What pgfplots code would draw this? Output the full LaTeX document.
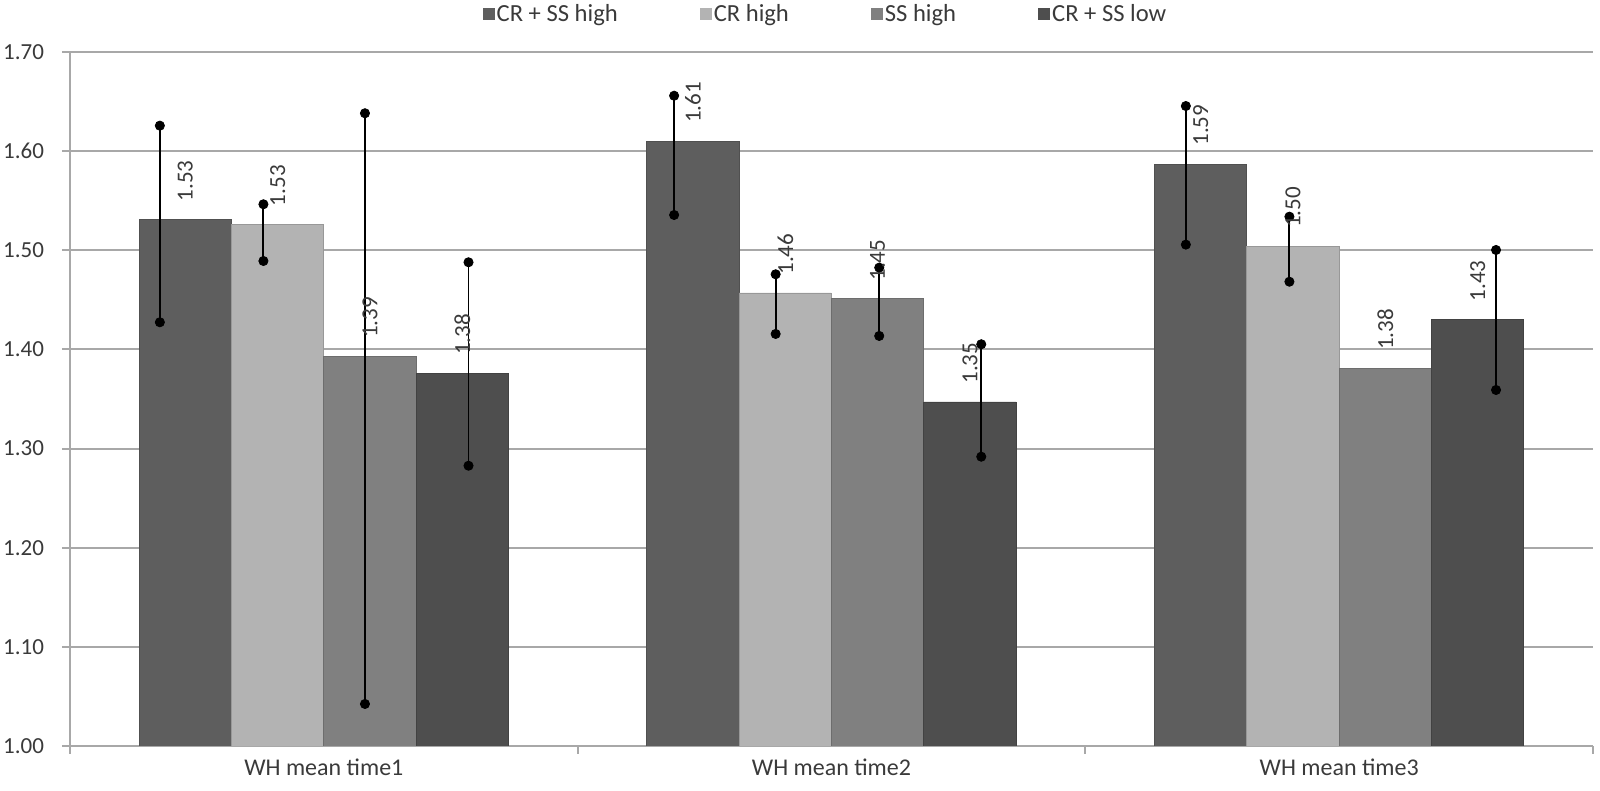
\documentclass[border=0pt]{standalone}
\usepackage{fontspec}
\setmainfont{Carlito}
\usepackage{pgfplots}
\usepackage{pgfplotstable}
\pgfplotsset{compat=1.18}
\definecolor{cA}{HTML}{5E5E5E}
\definecolor{cB}{HTML}{B3B3B3}
\definecolor{cC}{HTML}{808080}
\definecolor{cD}{HTML}{4E4E4E}
\definecolor{gridc}{HTML}{A8A8A8}
\definecolor{labc}{HTML}{3A3A3A}

% bar values
\pgfplotstableread{
x y
0 1.531
1 1.610
2 1.587
}\barA
\pgfplotstableread{
x y
0 1.526
1 1.457
2 1.504
}\barB
\pgfplotstableread{
x y
0 1.393
1 1.451
2 1.381
}\barC
\pgfplotstableread{
x y
0 1.376
1 1.347
2 1.430
}\barD
% error bars (x position, value, plus, minus)
\pgfplotstableread{
x y ep em
-0.323 1.531 0.0947 0.1036
0.690 1.610 0.0459 0.0744
1.698 1.587 0.0585 0.0813
}\errA
\pgfplotstableread{
x y ep em
-0.119 1.526 0.0204 0.0368
0.890 1.457 0.0188 0.0414
1.902 1.504 0.0299 0.0357
}\errB
\pgfplotstableread{
x y ep em
0.081 1.393 0.2452 0.3506
1.094 1.451 0.0315 0.0374
}\errC
\pgfplotstableread{
x y ep em
0.285 1.376 0.1119 0.0933
1.295 1.347 0.0582 0.0552
2.309 1.430 0.0703 0.0709
}\errD

\newcommand{\chartfont}{\fontsize{11.5}{13}\selectfont}
\newcommand{\catfont}{\fontsize{12}{14}\selectfont}
\newcommand{\legfont}{\fontsize{12.3}{14}\selectfont}

\pgfplotsset{
  lab/.style={
    nodes near coords={\pgfmathprintnumber[fixed,fixed zerofill,precision=2,assume math mode=true]{\pgfplotspointmeta}},
    nodes near coords style={rotate=90, anchor=west, inner xsep=9pt, inner ysep=0pt, font=\chartfont, text=labc},
  },
  errs/.style={
    sharp plot, bar shift=0pt, draw=none, mark=none, forget plot,
    error bars/.cd, y dir=both, y explicit,
    error mark=*,
    error mark options={draw=black, fill=black, mark size=2.3pt},
    error bar style={draw=black, line width=0.95pt},
  },
}

\begin{document}
\begin{tikzpicture}
\begin{axis}[
  name=ax,
  ybar, bar width=46.15pt,
  scale only axis, width=761.5pt, height=347pt,
  xmin=-0.5, xmax=2.5, ymin=1, ymax=1.7,
  axis x line=bottom, axis y line=left,
  axis line style={-, draw=gridc, line width=1pt},
  tick align=outside, major tick length=4pt,
  tick style={draw=gridc, line width=1pt},
  xtick={-0.5,0.5,1.5,2.5}, xticklabels={},
  extra x ticks={0,1,2},
  extra x tick labels={WH mean time1, WH mean time2, WH mean time3},
  extra x tick style={major tick length=0pt, xticklabel style={yshift=-3pt, font=\catfont}},
  ytick={1.0,1.1,1.2,1.3,1.4,1.5,1.6,1.7},
  y tick label style={/pgf/number format/fixed, /pgf/number format/fixed zerofill, /pgf/number format/precision=2, xshift=-5.5pt},
  /pgf/number format/assume math mode=true,
  tick label style={font=\chartfont, text=labc},
  ymajorgrids, grid style={draw=gridc, line width=1pt},
  legend style={at={(0.5,1)}, anchor=center, yshift=19pt, xshift=-3pt, draw=none, fill=none,
    font=\legfont, text=labc, nodes={inner sep=1pt},
    /tikz/every even column/.append style={column sep=40pt}},
  legend columns=4,
  legend image code/.code={\fill[#1, draw=none] (0pt,-3pt) rectangle (6pt,3pt);},
]
\addplot[bar shift=-69.23pt, fill=cA, draw=cA!85!black, line width=0.4pt, lab] table[x=x,y=y] {\barA};
\addlegendentry{CR + SS high}
\addplot[bar shift=-23.08pt, fill=cB, draw=cB!85!black, line width=0.4pt, lab] table[x=x,y=y] {\barB};
\addlegendentry{CR high}
\addplot[bar shift=23.08pt, fill=cC, draw=cC!85!black, line width=0.4pt, lab] table[x=x,y=y] {\barC};
\addlegendentry{SS high}
\addplot[bar shift=69.23pt, fill=cD, draw=cD!85!black, line width=0.4pt, lab] table[x=x,y=y] {\barD};
\addlegendentry{CR + SS low}
\addplot[errs] table[x=x, y=y, y error plus=ep, y error minus=em] {\errA};
\addplot[errs] table[x=x, y=y, y error plus=ep, y error minus=em] {\errB};
\addplot[errs] table[x=x, y=y, y error plus=ep, y error minus=em] {\errC};
\addplot[errs] table[x=x, y=y, y error plus=ep, y error minus=em] {\errD};
\end{axis}
\pgfresetboundingbox
\useasboundingbox (ax.south west) ++(-35pt,-22.5pt) rectangle ++(800pt,395.5pt);
\end{tikzpicture}
\end{document}
